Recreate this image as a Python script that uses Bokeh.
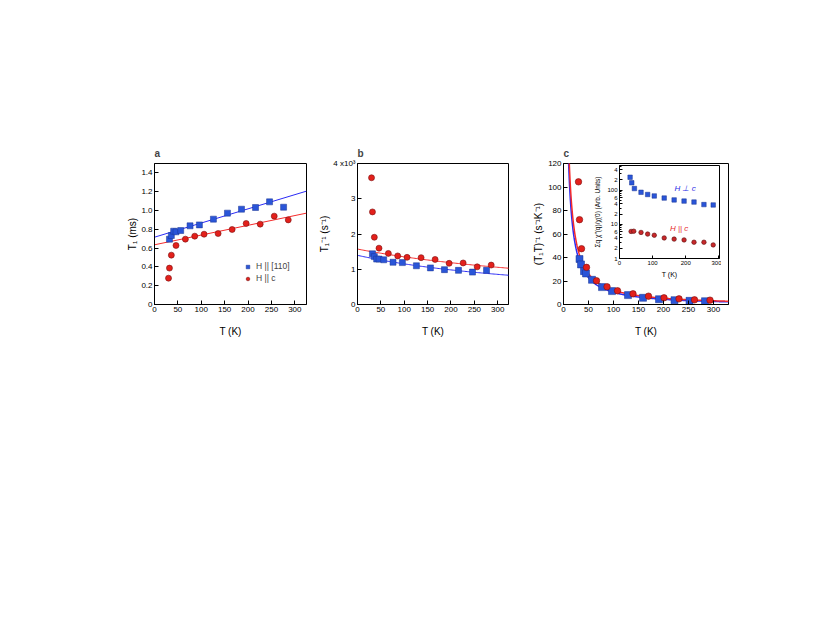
import numpy as np
from bokeh.plotting import figure
from bokeh.layouts import row
from bokeh.models import Range1d, FixedTicker, Legend, LegendItem, Label
from bokeh.embed import file_html
from bokeh.resources import INLINE

# ---------------- data ----------------
# panel a : T1 (ms)
T_a_110 = [32, 36, 41, 46, 56, 76, 96, 126, 156, 186, 216, 246, 276]
T1_110 = [0.695, 0.734, 0.78, 0.773, 0.787, 0.837, 0.847, 0.908, 0.972, 1.014, 1.032, 1.092, 1.035]
T_a_c = [30, 32, 36, 46, 66, 86, 106, 136, 166, 196, 226, 256, 286]
T1_c = [0.28, 0.387, 0.525, 0.628, 0.695, 0.727, 0.748, 0.755, 0.798, 0.862, 0.855, 0.94, 0.90]

# linear fits of T1 (intercept in ms, slope in ms/K)
fit_110 = [0.716, 0.001508]
fit_c = [0.635, 0.001037]

# panel b : 1/T1 (s^-1)
T_b_110 = [32, 36, 41, 46, 56, 76, 96, 126, 156, 186, 216, 246, 276]
rate_110 = [1440, 1360, 1290, 1290, 1270, 1200, 1190, 1100, 1040, 990, 970, 920, 970]
T_b_c = [30, 32, 36, 46, 66, 86, 106, 136, 166, 196, 226, 256, 286]
rate_c = [3600, 2630, 1910, 1600, 1450, 1380, 1340, 1330, 1280, 1170, 1180, 1070, 1120]

# panel c : 1/(T1 T) (s^-1 K^-1)
T_c_110 = [32, 35, 41, 45, 57, 77, 97, 129, 159, 191, 222, 252, 283]
rateT_110 = [38.7, 34.1, 28.4, 26.4, 21.0, 14.8, 11.4, 8.0, 5.7, 4.5, 3.7, 3.1, 2.8]
T_c_c = [30, 32, 36, 46, 66, 87, 108, 139, 170, 201, 231, 262, 293]
rateT_c = [104.4, 72.2, 47.5, 31.6, 20.2, 15.1, 11.7, 9.1, 7.1, 5.7, 4.8, 4.0, 3.7]
scale_c = 900.0  # fit amplitude for the 1/(T1 T) curves

# inset : sum_q chi''(q)/chi(0)
T_in_perp = [32, 37, 45, 65, 85, 105, 135, 165, 195, 225, 255, 283]
chi_perp = [240, 165, 112, 87, 75, 68, 59, 52, 48, 45, 38, 37]
T_in_par = [35, 43, 65, 85, 105, 135, 165, 195, 225, 255, 283]
chi_par = [6.2, 6.3, 5.8, 5.2, 4.8, 4.0, 3.7, 3.5, 3.0, 3.0, 2.5]

x_ticks = [0, 50, 100, 150, 200, 250, 300]
a_ticks = [0, 0.2, 0.4, 0.6, 0.8, 1.0, 1.2, 1.4]
a_labels = {0: "0", 0.2: "0.2", 0.4: "0.4", 0.6: "0.6", 0.8: "0.8", 1: "1.0", 1.2: "1.2", 1.4: "1.4"}
b_ticks = [0, 1000, 2000, 3000, 4000]
b_labels = {0: "0", 1000: "1", 2000: "2", 3000: "3", 4000: "4 x10\u00b3"}
c_ticks = [0, 20, 40, 60, 80, 100, 120]
in_x_ticks = [0, 100, 200, 300]
in_y_ticks = [1, 2, 4, 6, 10, 20, 40, 60, 100, 200, 400]
in_y_minor = [3, 5, 7, 8, 9, 30, 50, 70, 80, 90, 300, 500]
in_y_labels = {1: "1", 2: "2", 4: "4", 6: "6", 10: "10", 20: "2", 40: "4", 60: "6",
               100: "100", 200: "2", 400: "4"}

# ---------------- style ----------------
FONT = "Liberation Sans"
BLUE_F, BLUE_L = "#2a55d8", "#1a3590"
RED_F, RED_L = "#e3201b", "#7a1010"
BLUE_LINE, RED_LINE = "#2b2bf5", "#f52b2b"


def style(p, tick_size="8px", label_size="10px", tick_in=4):
    p.grid.visible = False
    p.outline_line_color = "black"
    p.outline_line_width = 1
    p.background_fill_color = None
    p.border_fill_color = None
    for ax in (p.xaxis[0], p.yaxis[0]):
        ax.major_tick_in = tick_in
        ax.major_tick_out = 0
        ax.minor_tick_in = 0
        ax.minor_tick_out = 0
        ax.axis_line_color = "black"
        ax.major_tick_line_color = "black"
        ax.major_label_text_font = FONT
        ax.major_label_text_font_size = tick_size
        ax.major_label_text_color = "black"
        ax.axis_label_text_font = FONT
        ax.axis_label_text_font_size = label_size
        ax.axis_label_text_font_style = "normal"
        ax.axis_label_text_color = "black"
        ax.major_label_standoff = 2


def panel_title(p, t):
    p.title.text = t
    p.title.text_font = FONT
    p.title.text_font_size = "10px"
    p.title.text_font_style = "bold"
    p.title.align = "left"
    p.title.standoff = 10


common = dict(output_backend="svg", toolbar_location=None, frame_height=141,
              min_border_top=163, min_border_bottom=40)

# ---------------- panel a ----------------
pa = figure(frame_width=152, min_border_left=154, min_border_right=10,
            x_range=Range1d(0, 325), y_range=Range1d(0, 1.5), **common)
style(pa)
panel_title(pa, "a")
pa.xaxis.ticker = FixedTicker(ticks=x_ticks)
pa.yaxis.ticker = FixedTicker(ticks=a_ticks)
pa.yaxis.major_label_overrides = a_labels
pa.xaxis.axis_label = "T (K)"
pa.yaxis.axis_label = "T\u2081 (ms)"
pa.xaxis.axis_label_standoff = 11
pa.yaxis.axis_label_standoff = 0

T_lin = np.array([0.0, 325.0])
pa.line(T_lin, fit_110[0] + fit_110[1] * T_lin, line_color=BLUE_LINE, line_width=1)
pa.line(T_lin, fit_c[0] + fit_c[1] * T_lin, line_color=RED_LINE, line_width=1)
ra1 = pa.scatter(T_a_110, T1_110, marker="square", size=6, fill_color=BLUE_F, line_color=BLUE_L, line_width=0.5)
ra2 = pa.scatter(T_a_c, T1_c, marker="circle", size=6, fill_color=RED_F, line_color=RED_L, line_width=0.6)
leg = Legend(items=[LegendItem(label="H || [110]", renderers=[ra1]),
                    LegendItem(label="H || c", renderers=[ra2])],
             location=(89, 21), background_fill_alpha=0, border_line_color=None,
             label_text_font=FONT, label_text_font_size="8.5px", glyph_width=9, glyph_height=9,
             label_standoff=4, spacing=2, padding=2, margin=0, label_height=10)
pa.add_layout(leg)

# ---------------- panel b ----------------
pb = figure(frame_width=151, min_border_left=40, min_border_right=10,
            x_range=Range1d(0, 323), y_range=Range1d(0, 4005), **common)
style(pb)
panel_title(pb, "b")
pb.xaxis.ticker = FixedTicker(ticks=x_ticks)
pb.yaxis.ticker = FixedTicker(ticks=b_ticks)
pb.yaxis.major_label_overrides = b_labels
pb.xaxis.axis_label = "T (K)"
pb.yaxis.axis_label = "T\u2081\u207b\u00b9 (s\u207b\u00b9)"
pb.xaxis.axis_label_standoff = 11
pb.yaxis.axis_label_standoff = 0

T_curve = np.linspace(0, 325, 120)
pb.line(T_curve, 1000.0 / (fit_110[0] + fit_110[1] * T_curve), line_color=BLUE_LINE, line_width=1)
pb.line(T_curve, 1000.0 / (fit_c[0] + fit_c[1] * T_curve), line_color=RED_LINE, line_width=1)
pb.scatter(T_b_110, rate_110, marker="square", size=6, fill_color=BLUE_F, line_color=BLUE_L, line_width=0.5)
pb.scatter(T_b_c, rate_c, marker="circle", size=6, fill_color=RED_F, line_color=RED_L, line_width=0.6)

# ---------------- panel c ----------------
pc = figure(frame_width=165, min_border_left=45, min_border_right=10,
            x_range=Range1d(0, 330), y_range=Range1d(0, 120), **common)
style(pc)
panel_title(pc, "c")
pc.xaxis.ticker = FixedTicker(ticks=x_ticks)
pc.yaxis.ticker = FixedTicker(ticks=c_ticks)
pc.xaxis.axis_label = "T (K)"
pc.yaxis.axis_label = "(T\u2081T)\u207b\u00b9 (s\u207b\u00b9K\u207b\u00b9)"
pc.xaxis.axis_label_standoff = 11
pc.yaxis.axis_label_standoff = 1

T_cc = np.linspace(4, 330, 400)
pc.line(T_cc, scale_c / (T_cc * (fit_110[0] + fit_110[1] * T_cc)), line_color=BLUE_LINE, line_width=1.5)
pc.line(T_cc, scale_c / (T_cc * (fit_c[0] + fit_c[1] * T_cc)), line_color=RED_LINE, line_width=1.5)
pc.scatter(T_c_110, rateT_110, marker="square", size=7, fill_color=BLUE_F, line_color=BLUE_L, line_width=0.5)
pc.scatter(T_c_c, rateT_c, marker="circle", size=6.5, fill_color=RED_F, line_color=RED_L, line_width=0.6)

# ---------------- inset ----------------
IN_LEFT = 32
pi = figure(frame_width=100, frame_height=93, min_border_left=IN_LEFT, min_border_right=2,
            min_border_top=2, min_border_bottom=26, y_axis_type="log",
            x_range=Range1d(0, 302), y_range=Range1d(1, 530),
            output_backend="svg", toolbar_location=None)
style(pi, tick_size="6px", label_size="7px", tick_in=3)
pi.xaxis.ticker = FixedTicker(ticks=in_x_ticks)
pi.yaxis.ticker = FixedTicker(ticks=in_y_ticks, minor_ticks=in_y_minor)
pi.yaxis.major_label_overrides = in_y_labels
pi.yaxis.minor_tick_in = 2
pi.yaxis.minor_tick_line_color = "black"
pi.xaxis.axis_label = "T (K)"
pi.yaxis.axis_label = "\u03a3q \u03c7\u2033(q)/\u03c7(0) (Arb. Units)"
pi.yaxis.axis_label_text_font_size = "6.5px"
pi.xaxis.axis_label_standoff = 3
pi.yaxis.axis_label_standoff = 3
pi.xaxis.major_label_standoff = 2
pi.yaxis.major_label_standoff = 2
pi.scatter(T_in_perp, chi_perp, marker="square", size=4.5, fill_color=BLUE_F, line_color=BLUE_L, line_width=0.5)
pi.scatter(T_in_par, chi_par, marker="circle", size=4.5, fill_color="#c8282a", line_color="#5a0e0e", line_width=0.6)
pi.add_layout(Label(x=198, y=112, text="H \u22a5 c", text_font=FONT, text_font_size="8px",
                    text_font_style="italic", text_color="#2a2ae6", text_align="center",
                    text_baseline="middle"))
pi.add_layout(Label(x=180, y=7.5, text="H || c", text_font=FONT, text_font_size="8px",
                    text_font_style="italic", text_color="#e62a2a", text_align="center",
                    text_baseline="middle"))
pi.styles = {"position": "absolute", "left": f"{619 - IN_LEFT}px", "top": f"{165 - 2}px"}

layout = row(pa, pb, pc)
open("out.html", "w").write(file_html([layout, pi], INLINE))
